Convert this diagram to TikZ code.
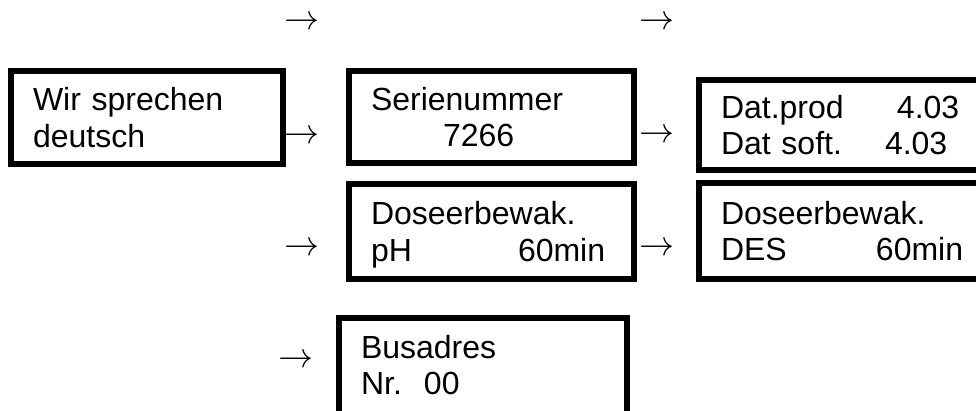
\documentclass[tikz,border=0pt]{standalone}
\usepackage{fix-cm}
\usepackage{fontspec}
\setmainfont{Liberation Sans}
\begin{document}
\begin{tikzpicture}[x=1pt,y=-1pt,
    lcd/.style={draw,line width=6pt,anchor=north west,align=left,inner xsep=22pt,inner ysep=0pt,
      text depth=36.5pt,font=\fontsize{32}{36.5}\selectfont},
    pijl/.style={inner sep=0pt,font=\fontsize{35}{40}\selectfont}]
    \useasboundingbox(0,0)rectangle(976,410);
    % schermen
    \node[lcd,text width=228pt,minimum height=93pt](taal)at(8,68){Wir sprechen\\deutsch};
    \node[lcd,text width=241pt,minimum height=92pt](serie)at(346,68){Serienummer\\\hspace*{72pt}7266};
    \node[lcd,text width=250pt,minimum height=90pt](datum)at(696,77){\makebox[176pt][l]{Dat.prod}4.03\\\makebox[164pt][l]{Dat soft.}4.03};
    \node[lcd,text width=241pt,minimum height=95pt](dosph)at(346,181){Doseerbewak.\\\makebox[147pt][l]{pH}60min};
    \node[lcd,text width=250pt,minimum height=96pt](dosdes)at(696,180){Doseerbewak.\\\makebox[155pt][l]{DES}60min};
    \node[lcd,text width=244pt,minimum height=102pt,text depth=44.5pt](bus)at(336,315){Busadres\\\makebox[63pt][l]{Nr.}00};
    % pijlen
    \node[pijl](boven1)at(302,23){$\rightarrow$};
    \node[pijl](boven2)at(657,23){$\rightarrow$};
    \node[pijl](pijl12)at(302,137){$\rightarrow$};
    \node[pijl](pijl23)at(657,136){$\rightarrow$};
    \node[pijl](pijl4)at(302,249){$\rightarrow$};
    \node[pijl](pijl45)at(657,249){$\rightarrow$};
    \node[pijl](pijl6)at(296,361){$\rightarrow$};
\end{tikzpicture}
\end{document}
